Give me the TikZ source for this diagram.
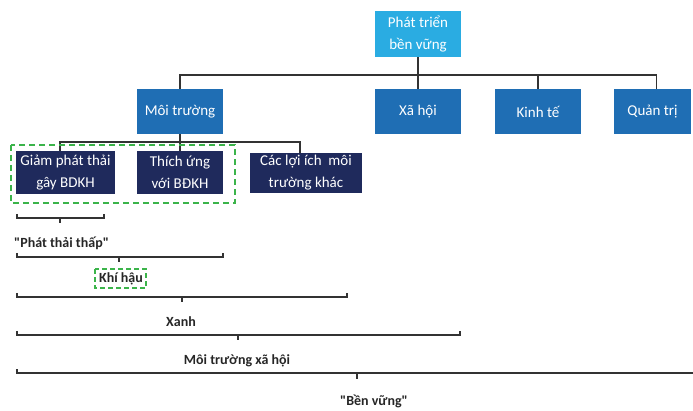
\documentclass[tikz,border=0pt]{standalone}
\usepackage{fontspec}
\newfontfamily\carl{Carlito}
\begin{document}
\begin{tikzpicture}[x=1pt,y=-1pt,
  box/.style={inner sep=0pt, align=center, text=white, font=\carl\fontsize{15}{22}\selectfont},
  topbox/.style={box, fill=topblue},
  midbox/.style={box, fill=midblue},
  lowbox/.style={box, fill=navy},
  conn/.style={draw=linegray, line width=1.2pt},
  brk/.style={draw=linegray, line width=1.1pt},
  lbl/.style={inner sep=0pt, font=\carl\fontsize{14}{16}\bfseries\selectfont, text=black!85},
  grn/.style={draw=greendash, dashed, dash pattern=on 6pt off 4pt, line width=1.6pt}
]
\definecolor{topblue}{HTML}{2AACE2}
\definecolor{midblue}{HTML}{1F6EB4}
\definecolor{navy}{HTML}{1F2A5C}
\definecolor{linegray}{HTML}{333333}
\definecolor{greendash}{HTML}{3BB44A}
\useasboundingbox (0,0) rectangle (693,411);

% level 1
\node[topbox, minimum width=86pt, minimum height=46pt] (top) at (418,34) {Phát triển\\bền vững};
% level 2
\node[midbox, minimum width=86pt, minimum height=45pt] (mt) at (180,111.5) {Môi trường};
\node[midbox, minimum width=86pt, minimum height=45pt] (xh) at (418,111.5) {Xã hội};
\node[midbox, minimum width=86pt, minimum height=45pt] (kt) at (538,111.5) {Kinh tế};
\node[midbox, minimum width=77pt, minimum height=45pt] (qt) at (652.5,111.5) {Quản trị};
% level 3
\node[lowbox, minimum width=99pt, minimum height=43pt] (gp) at (65.5,172.5) {Giảm phát thải\\gây BDKH};
\node[lowbox, minimum width=86pt, minimum height=43pt] (tu) at (180,172.5) {Thích ứng\\với BĐKH};
\node[lowbox, minimum width=112pt, minimum height=40pt] (cl) at (306,173) {Các lợi ích\ \ môi\\trường khác};

% connectors level 1 -> 2
\coordinate (j1) at (418,75);
\coordinate (jq) at (656.5,75);
\draw[conn] (top.south) -- (j1);
\draw[conn] (mt.north) -- (mt.north |- j1) -- (jq) -- (jq |- qt.north);
\draw[conn] (xh.north) -- (xh.north |- j1);
\draw[conn] (kt.north) -- (kt.north |- j1);

% connectors level 2 -> 3
\coordinate (j2) at (180,142);
\coordinate (jg) at (60,142);
\coordinate (jc) at (300,142);
\draw[conn] (mt.south) -- (j2);
\draw[conn] (jg |- gp.north) -- (jg) -- (jc) -- (jc |- cl.north);
\draw[conn] (tu.north) -- (tu.north |- j2);

% green dashed group
\draw[grn] (11,145) rectangle (235,203);

% brackets
\draw[brk] (17,214) -- (17,218) -- (104,218) -- (104,214);
\draw[brk] (60,218) -- (60,223);
\node[lbl, anchor=west] (l1) at (14,243) {"Phát thải thấp"};

\draw[brk] (17,253) -- (17,257) -- (223,257) -- (223,253);
\draw[brk] (119,257) -- (119,262);
\node[lbl] (l2) at (121,279) {Khí hậu};
\draw[grn, line width=1.4pt, dash pattern=on 5pt off 3pt] (95,269) rectangle (146,288);

\draw[brk] (17,293) -- (17,297) -- (347,297) -- (347,293);
\draw[brk] (182,297) -- (182,302);
\node[lbl] (l3) at (181,322) {Xanh};

\draw[brk] (17,331) -- (17,335) -- (460,335) -- (460,331);
\draw[brk] (238,335) -- (238,340);
\node[lbl] (l4) at (237,361) {Môi trường xã hội};

\draw[brk] (17,369) -- (17,373) -- (693,373);
\draw[brk] (357,373) -- (357,379);
\node[lbl] (l5) at (374,401) {"Bền vững"};
\end{tikzpicture}
\end{document}
